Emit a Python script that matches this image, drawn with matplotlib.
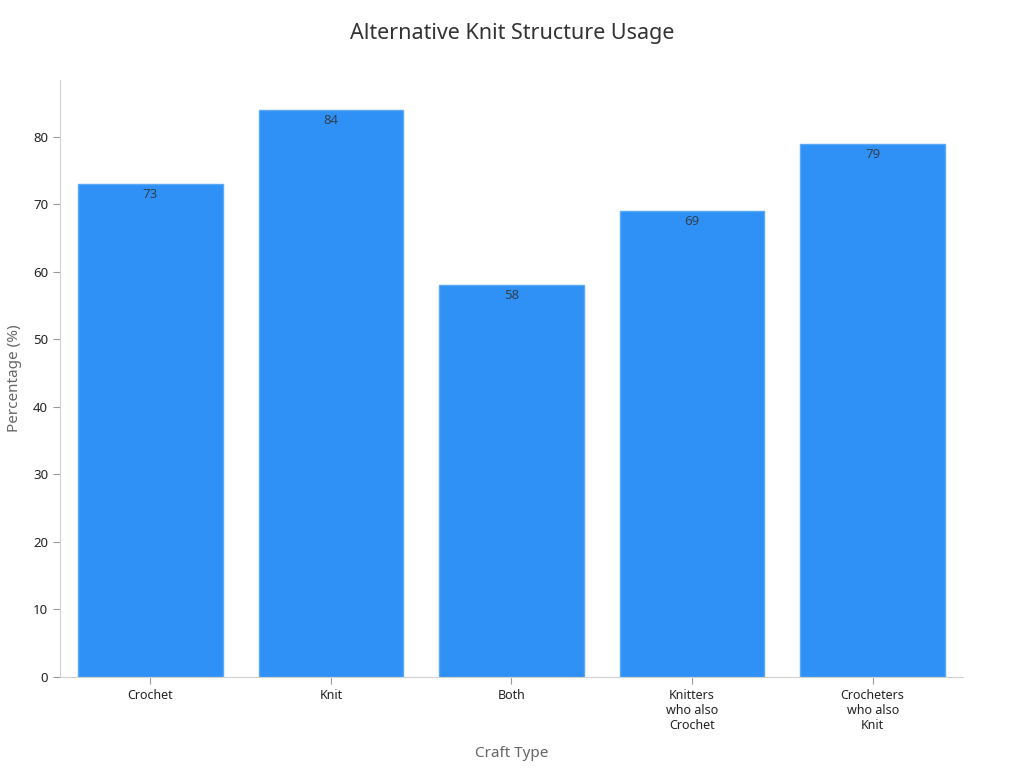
import matplotlib
matplotlib.use("Agg")
import matplotlib.pyplot as plt

# Data
categories = ["Crochet", "Knit", "Both", "Knitters\nwho also\nCrochet", "Crocheters\nwho also\nKnit"]
values = [73, 84, 58, 69, 79]

plt.rcParams["font.family"] = ["Noto Sans", "DejaVu Sans"]

fig = plt.figure(figsize=(10.24, 7.68), dpi=100)
ax = fig.add_axes([0.0586, 0.1185, 0.8818, 0.7773])

x = range(len(categories))
bars = ax.bar(x, values, width=0.8, color="#2f91f6", edgecolor="#5aa8f8", linewidth=1)

for xi, v in zip(x, values):
    ax.text(xi, v - 0.6, f"{v}", ha="center", va="top", fontsize=9.5, color="#333f50")

ax.set_xlim(-0.5, 4.5)
ax.set_ylim(0, 88.4)
ax.set_yticks(range(0, 81, 10))
ax.set_xticks(list(x))
ax.set_xticklabels(categories, fontsize=9, color="#222222")
ax.tick_params(axis="y", labelsize=9.5, colors="#222222", length=5, color="#999999")
ax.tick_params(axis="x", length=5, color="#999999")

for side in ["top", "right"]:
    ax.spines[side].set_visible(False)
for side in ["left", "bottom"]:
    ax.spines[side].set_color("#d0d0d0")

ax.set_xlabel("Craft Type", fontsize=11, color="#666666", labelpad=10)
ax.set_ylabel("Percentage (%)", fontsize=11, color="#666666", labelpad=8)
fig.suptitle("Alternative Knit Structure Usage", fontsize=15.5, color="#333333", y=0.97)

fig.savefig("out.png", dpi=100)
